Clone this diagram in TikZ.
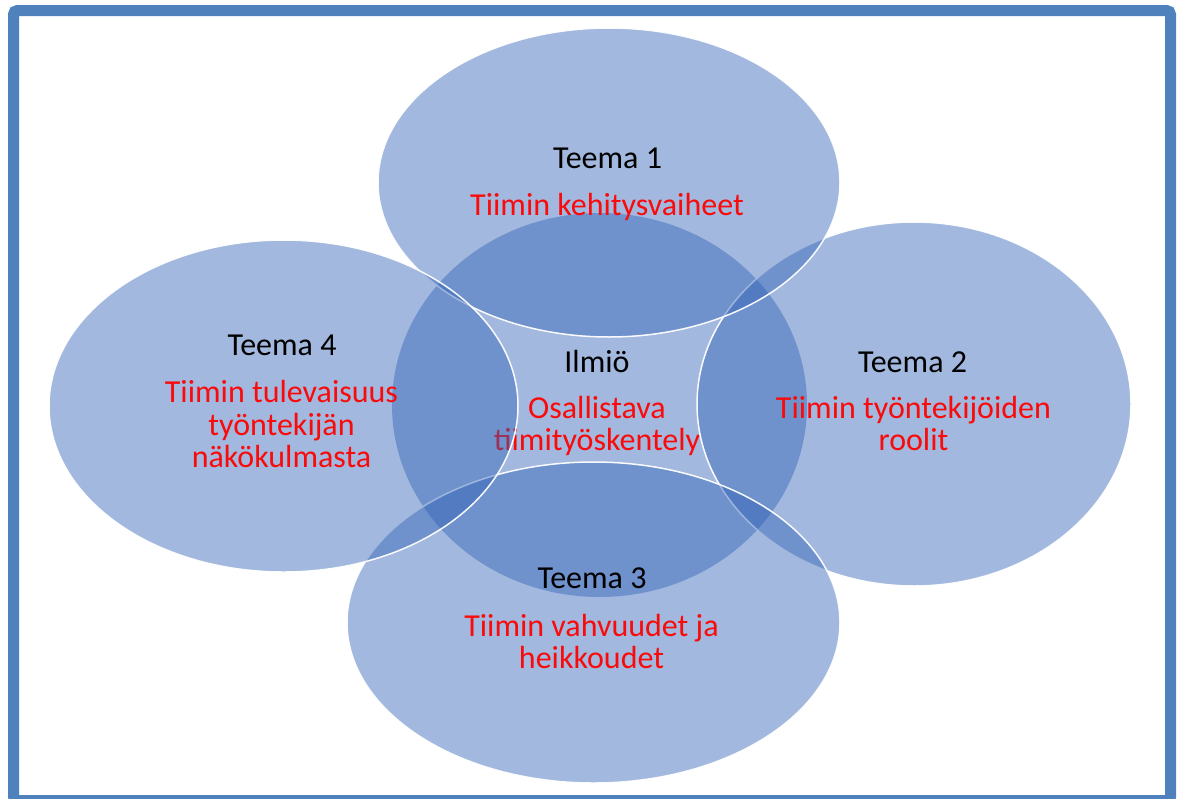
\documentclass[tikz,border=0pt]{standalone}
\usepackage{fontspec}
\setmainfont{Carlito}
\usetikzlibrary{shapes.geometric}
\definecolor{vennblue}{RGB}{49,98,183}
\definecolor{frameblue}{RGB}{79,129,189}
\definecolor{txtred}{RGB}{250,10,10}
\begin{document}
\begin{tikzpicture}[x=1pt,y=-1pt,
  blob/.style={ellipse, fill=vennblue, fill opacity=0.45, draw=white, draw opacity=0.95, line width=1.5pt, inner sep=0pt, outer sep=0pt},
  coreblob/.style={ellipse, fill=vennblue, fill opacity=0.45, draw=none, inner sep=0pt, outer sep=0pt},
  head/.style={anchor=base, font=\fontsize{32}{36}\selectfont, text=black, inner sep=0pt},
  body/.style={anchor=base, font=\fontsize{32}{36}\selectfont, text=txtred, inner sep=0pt}]
\useasboundingbox (0,0) rectangle (1180,798);
\fill[white] (0,0) rectangle (1180,798);
% centre
\node (c) [coreblob, minimum width=415pt, minimum height=384pt] at (599.5,405) {};
\node (ch) [head] at (597,372) {Ilmiö};
\node (cb1) [body] at (597,418) {Osallistava};
\node (cb2) [body] at (597,450) {tiimityöskentely};
% theme 2 (right)
\node (e2) [blob, minimum width=434pt, minimum height=364pt] at (914,404) {};
\node (h2) [head] at (912.5,372) {Teema 2};
\node (b2a) [body] at (913.5,418) {Tiimin työntekijöiden};
\node (b2b) [body] at (913.5,450) {roolit};
% theme 3 (bottom)
\node (e3) [blob, minimum width=493pt, minimum height=321pt] at (593.5,622.5) {};
\node (h3) [head] at (592,588) {Teema 3};
\node (b3a) [body] at (591.5,636) {Tiimin vahvuudet ja};
\node (b3b) [body] at (591.5,668) {heikkoudet};
% theme 1 (top)
\node (e1) [blob, minimum width=462pt, minimum height=309pt] at (609,182.5) {};
\node (h1) [head] at (607.5,168) {Teema 1};
\node (b1) [body] at (607,215) {Tiimin kehitysvaiheet};
% theme 4 (left)
\node (e4) [blob, minimum width=469pt, minimum height=332pt] at (283.5,406) {};
\node (h4) [head] at (282,355) {Teema 4};
\node (b4a) [body] at (281.5,402) {Tiimin tulevaisuus};
\node (b4b) [body] at (281.5,435) {työntekijän};
\node (b4c) [body] at (281.5,467) {näkökulmasta};
% frame
\draw[frameblue, line width=11pt, rounded corners=4pt] (13.5,10.5) rectangle (1170.5,800.5);
\end{tikzpicture}
\end{document}
